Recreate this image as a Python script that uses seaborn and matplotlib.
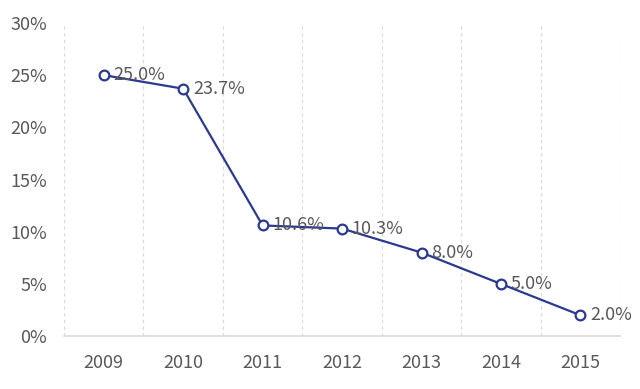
import seaborn as sns
import matplotlib.pyplot as plt
import pandas as pd

years = ["2009", "2010", "2011", "2012", "2013", "2014", "2015"]
rates = [25.0, 23.7, 10.6, 10.3, 8.0, 5.0, 2.0]
y_ticks = [0, 5, 10, 15, 20, 25, 30]

df = pd.DataFrame({"year": years, "rate": rates})
df["pos"] = range(len(years))

sns.set_style("white")
plt.rcParams['font.family'] = ['Noto Sans CJK SC', 'DejaVu Sans']

fig = plt.figure(figsize=(6.4, 3.89), dpi=100)
ax = fig.add_axes([0.1, 0.136, 0.869, 0.805])

line_color = "#2B3990"
sns.lineplot(data=df, x="pos", y="rate", ax=ax, color=line_color, linewidth=1.6,
             marker="o", markersize=7, markerfacecolor="white",
             markeredgecolor=line_color, markeredgewidth=1.6)

for x, y in zip(df["pos"], df["rate"]):
    ax.annotate(f"{y:.1f}%", (x, y), xytext=(7, 0), textcoords="offset points",
                ha="left", va="center", fontsize=13, color="#595959")

ax.set_xlim(-0.5, len(years) - 0.5)
ax.set_ylim(0, 30)
ax.set_xticks(df["pos"])
ax.set_xticklabels(years)
ax.set_yticks(y_ticks)
ax.set_yticklabels([f"{t}%" for t in y_ticks])
ax.tick_params(axis="both", length=0, labelsize=13, labelcolor="#595959")
ax.tick_params(axis="x", pad=13)
ax.tick_params(axis="y", pad=12)
ax.set_xlabel("")
ax.set_ylabel("")

# dashed vertical separators between categories
for b in range(len(years) + 1):
    ax.axvline(b - 0.5, color="#D9D9D9", linestyle=(0, (3, 3)), linewidth=0.8, zorder=0)

for s in ["top", "right", "left"]:
    ax.spines[s].set_visible(False)
ax.spines["bottom"].set_color("#D9D9D9")
ax.spines["bottom"].set_linewidth(1.2)

fig.savefig("out.png", dpi=100)
